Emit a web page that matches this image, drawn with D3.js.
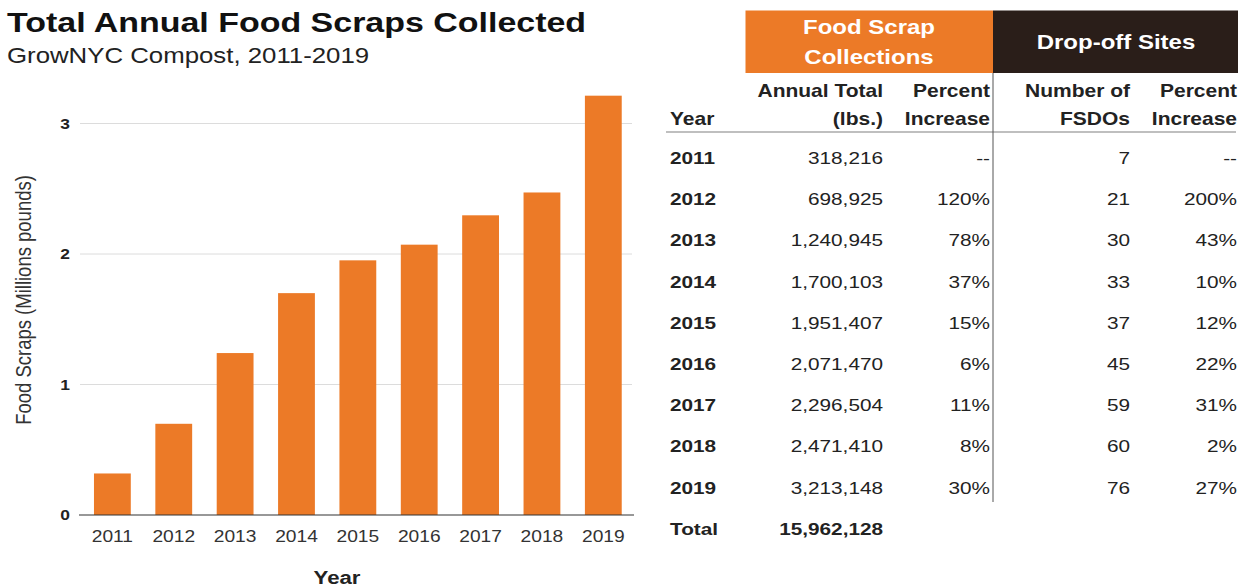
<!DOCTYPE html>
<html>
<head>
<meta charset="utf-8">
<script src="https://cdn.jsdelivr.net/npm/d3@7"></script>
<style>
  body { margin: 0; background: #fff; }
  text { font-family: "Liberation Sans", Arial, sans-serif; }
</style>
</head>
<body>
<div id="chart"></div>
<script>
// data
var years = ["2011", "2012", "2013", "2014", "2015", "2016", "2017", "2018", "2019"];
var annualTotals = [318216, 698925, 1240945, 1700103, 1951407, 2071470, 2296504, 2471410, 3213148];
var collectPct = ["--", "120%", "78%", "37%", "15%", "6%", "11%", "8%", "30%"];
var fsdoCounts = [7, 21, 30, 33, 37, 45, 59, 60, 76];
var fsdoPct = ["--", "200%", "43%", "10%", "12%", "22%", "31%", "2%", "27%"];
var yTicks = [0, 1, 2, 3];
var grandTotal = 15962128;

var svgWidth = 1243;
var svgHeight = 588;
var orange = "#ec7a27";
var dark = "#2a1e19";
// the source image has its lettering stretched sideways
var sx = 1.2;

var svg = d3.select("#chart")
  .append("svg")
  .attr("width", svgWidth)
  .attr("height", svgHeight);

// put a text at x,y and stretch it
function put(sel, x, y) {
  return sel.attr("transform", `translate(${x},${y}) scale(${sx},1)`);
}

// titles
put(svg.append("text"), 7, 32)
  .attr("font-size", "28.3px").attr("font-weight", "bold").attr("fill", "#111")
  .text("Total Annual Food Scraps Collected");

put(svg.append("text"), 7, 63)
  .attr("font-size", "21.5px").attr("fill", "#222")
  .text("GrowNYC Compost, 2011-2019");

// bar chart
var xScale = d3.scaleBand()
  .domain(years)
  .range([81.7, 634])
  .paddingInner(0.4)
  .paddingOuter(0.2);

var yScale = d3.scaleLinear()
  .domain([0, 3])
  .range([515, 123.5]);

// gridlines
svg.append("g")
  .selectAll("line")
  .data(yTicks.filter(d => d > 0))
  .enter()
  .append("line")
  .attr("x1", 80).attr("x2", 632)
  .attr("y1", d => yScale(d)).attr("y2", d => yScale(d))
  .attr("stroke", "#dcdcdc").attr("stroke-width", 1);

svg.append("g")
  .selectAll("rect")
  .data(years)
  .enter()
  .append("rect")
  .attr("x", d => xScale(d))
  .attr("y", (d, i) => yScale(annualTotals[i] / 1e6))
  .attr("width", xScale.bandwidth())
  .attr("height", (d, i) => yScale(0) - yScale(annualTotals[i] / 1e6))
  .attr("fill", orange);

// baseline
svg.append("line")
  .attr("x1", 79).attr("x2", 634)
  .attr("y1", yScale(0)).attr("y2", yScale(0))
  .attr("stroke", "#333").attr("stroke-width", 1.2);

// y axis
var leftAxis = d3.axisLeft(yScale).tickValues(yTicks).tickFormat(d3.format("d")).tickSize(0).tickPadding(0);
var yAxisG = svg.append("g")
  .attr("transform", "translate(70,0)")
  .call(leftAxis);
yAxisG.select(".domain").remove();
yAxisG.selectAll("text")
  .attr("font-size", "14.5px").attr("font-weight", "bold").attr("fill", "#222")
  .attr("transform", `scale(${sx},1)`)
  .style("font-family", "'Liberation Sans', Arial, sans-serif");

// x axis
var bottomAxis = d3.axisBottom(xScale).tickSize(0).tickPadding(16);
var xAxisG = svg.append("g")
  .attr("transform", `translate(0, ${yScale(0)})`)
  .call(bottomAxis);
xAxisG.select(".domain").remove();
xAxisG.selectAll("text")
  .attr("font-size", "16px").attr("fill", "#333")
  .attr("transform", `scale(${sx},1)`)
  .style("font-family", "'Liberation Sans', Arial, sans-serif");

// axis titles
svg.append("text")
  .attr("transform", `translate(23, 300) rotate(-90) scale(1,${sx})`)
  .attr("text-anchor", "middle")
  .attr("dy", "0.35em")
  .attr("font-size", "18.5px").attr("fill", "#333")
  .text("Food Scraps (Millions pounds)");

put(svg.append("text"), 337, 584)
  .attr("text-anchor", "middle")
  .attr("font-size", "18.5px").attr("font-weight", "bold").attr("fill", "#222")
  .text("Year");

// table
var table = svg.append("g");
var fmt = d3.format(",");
var colX = { year: 670, total: 883, pct: 990, count: 1130, pct2: 1237 };
var rowY = d3.scaleLinear().domain([0, 1]).range([164, 205.2]);

table.append("rect")
  .attr("x", 745.5).attr("y", 10.5).attr("width", 247.5).attr("height", 62.5)
  .attr("fill", orange);
table.append("rect")
  .attr("x", 993).attr("y", 10.5).attr("width", 245).attr("height", 62.5)
  .attr("fill", dark);

put(table.append("text"), 869, 34)
  .attr("text-anchor", "middle").attr("font-size", "20px").attr("font-weight", "bold").attr("fill", "#fff")
  .text("Food Scrap");
put(table.append("text"), 869, 64)
  .attr("text-anchor", "middle").attr("font-size", "20px").attr("font-weight", "bold").attr("fill", "#fff")
  .text("Collections");
put(table.append("text"), 1116, 49)
  .attr("text-anchor", "middle").attr("font-size", "20px").attr("font-weight", "bold").attr("fill", "#fff")
  .text("Drop-off Sites");

var headers = [
  { x: colX.total, lines: ["Annual Total", "(lbs.)"] },
  { x: colX.pct, lines: ["Percent", "Increase"] },
  { x: colX.count, lines: ["Number of", "FSDOs"] },
  { x: colX.pct2, lines: ["Percent", "Increase"] }
];
headers.forEach(function(h) {
  h.lines.forEach(function(l, j) {
    put(table.append("text"), h.x, 97 + j * 28)
      .attr("text-anchor", "end").attr("font-size", "17.5px").attr("font-weight", "bold").attr("fill", "#222")
      .text(l);
  });
});
put(table.append("text"), colX.year, 125)
  .attr("font-size", "17.5px").attr("font-weight", "bold").attr("fill", "#222")
  .text("Year");

table.append("line")
  .attr("x1", 666).attr("x2", 1236).attr("y1", 132).attr("y2", 132)
  .attr("stroke", "#aaa").attr("stroke-width", 1.5);
table.append("line")
  .attr("x1", 993).attr("x2", 993).attr("y1", 73).attr("y2", 502)
  .attr("stroke", "#555").attr("stroke-width", 1);

var rows = table.selectAll("g.row")
  .data(years)
  .enter()
  .append("g")
  .attr("class", "row")
  .attr("transform", (d, i) => `translate(0, ${rowY(i)})`);

function cell(x, anchor, bold, fn) {
  rows.append("text")
    .attr("transform", `translate(${x},0) scale(${sx},1)`)
    .attr("text-anchor", anchor)
    .attr("font-size", "17.3px").attr("font-weight", bold ? "bold" : "normal").attr("fill", "#222")
    .text(fn);
}
cell(colX.year, "start", true, d => d);
cell(colX.total, "end", false, (d, i) => fmt(annualTotals[i]));
cell(colX.pct, "end", false, (d, i) => collectPct[i]);
cell(colX.count, "end", false, (d, i) => fsdoCounts[i]);
cell(colX.pct2, "end", false, (d, i) => fsdoPct[i]);

put(table.append("text"), colX.year, rowY(years.length))
  .attr("font-size", "17.3px").attr("font-weight", "bold").attr("fill", "#222")
  .text("Total");
put(table.append("text"), colX.total, rowY(years.length))
  .attr("text-anchor", "end")
  .attr("font-size", "17.3px").attr("font-weight", "bold").attr("fill", "#222")
  .text(fmt(grandTotal));
</script>
</body>
</html>
